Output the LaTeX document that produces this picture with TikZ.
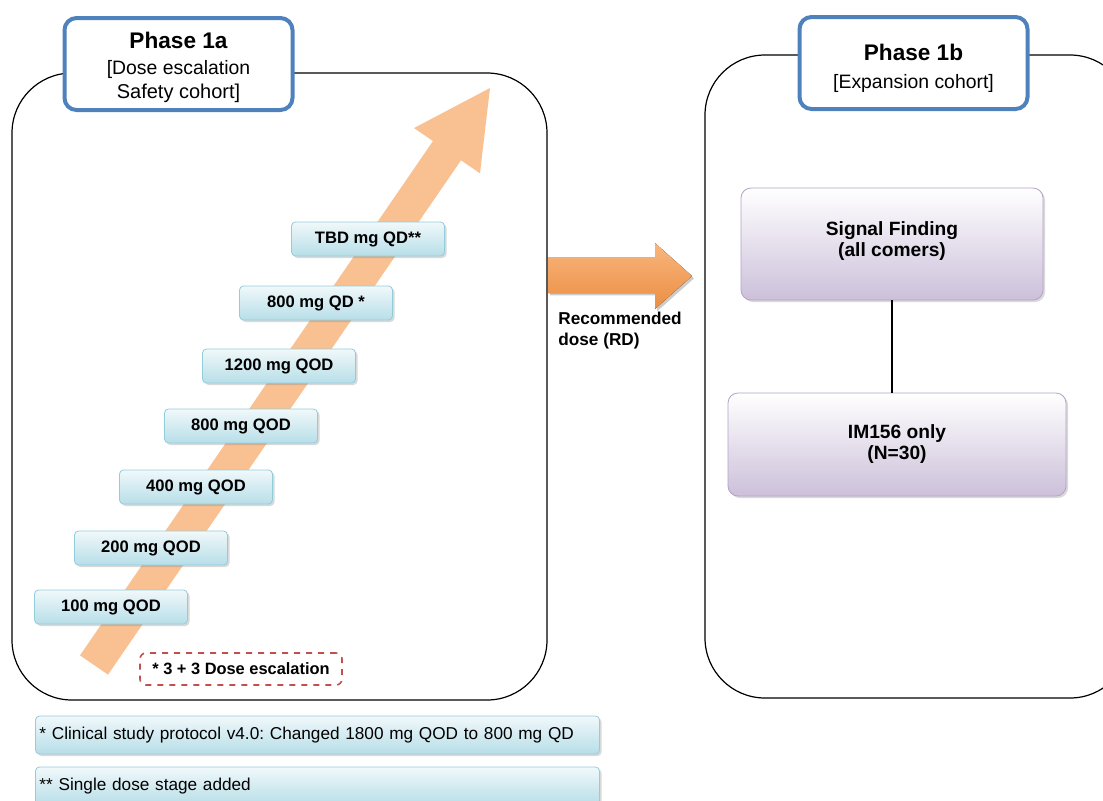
\documentclass[tikz,border=0pt]{standalone}
\usepackage{fontspec}
\setmainfont{Liberation Sans}
\usepackage{xcolor}
\usetikzlibrary{calc,shadows}
\definecolor{hdrblue}{HTML}{4F81BD}
\definecolor{dosefill}{HTML}{B7DEE8}
\definecolor{doseline}{HTML}{92CDDC}
\definecolor{lilac}{HTML}{CCC0DA}
\definecolor{lilacline}{HTML}{B3A2C7}
\definecolor{rdorange}{HTML}{F79646}
\definecolor{stairorange}{HTML}{F9C192}
\definecolor{dashred}{HTML}{C0504D}
\newcommand{\fsz}[1]{\fontsize{#1}{1.2\dimexpr#1pt\relax}\selectfont}
\frenchspacing

\tikzset{
  phasebox/.style={draw=hdrblue, line width=2pt, fill=white, rounded corners=6pt,
    minimum width=114pt, minimum height=46pt, align=center},
  dosebox/.style={draw=doseline, rounded corners=2pt, top color=dosefill!20, bottom color=dosefill,
    minimum width=76.5pt, minimum height=17pt, inner sep=1pt, font=\fsz{8.3}\bfseries,
    drop shadow={shadow xshift=1pt, shadow yshift=-1pt, opacity=0.3}},
  notebox/.style={dosebox, minimum width=282pt, minimum height=19pt, font=\fsz{8.6}, align=left,
    text width=278pt},
  armbox/.style={draw=lilacline, rounded corners=5pt, top color=white, bottom color=lilac,
    align=center, font=\fontsize{9.6}{10.5}\selectfont\bfseries,
    drop shadow={shadow xshift=1pt, shadow yshift=-1pt, opacity=0.3}},
  cohort/.style={draw, line width=0.6pt, rounded corners=30pt},
}

\begin{document}
\begin{tikzpicture}[x=0.5pt, y=-0.5pt]
    \useasboundingbox (0,0) rectangle (1103,800);
    \clip (0,0) rectangle (1103,800);

    % Cohort frames
    \draw[cohort] (12,73) rectangle (547,700);
    \draw[cohort] (705,55) rectangle (1130,698);

    % Escalation arrow
    \coordinate (abot) at (94,665);
    \coordinate (atip) at (490,88);
    \coordinate (aneck) at ($(atip)!38pt!(abot)$);
    \fill[stairorange] ($(abot)!8.5pt!90:(atip)$) -- ($(aneck)!8.5pt!-90:(abot)$)
        -- ($(aneck)!20pt!-90:(abot)$) -- (atip) -- ($(aneck)!20pt!90:(abot)$)
        -- ($(aneck)!8.5pt!90:(abot)$) -- ($(abot)!8.5pt!-90:(atip)$) -- cycle;

    % Phase headers
    \node[phasebox] (p1a) at (178.5,64) {\fsz{11.3}\bfseries\rule{0pt}{11.5pt}Phase 1a\\[1pt]
        \fsz{9.7}{[}Dose escalation\\Safety cohort{]}};
    \node[phasebox] (p1b) at (913.5,63) {\fsz{11.3}\bfseries\rule{0pt}{14pt}Phase 1b\\[2pt]
        \fsz{9.7}{[}Expansion cohort{]}};

    % Dose levels
    \node[dosebox] (d100) at (111,607) {100 mg QOD};
    \node[dosebox] (d200) at (151,548) {200 mg QOD};
    \node[dosebox] (d400) at (196,487) {400 mg QOD};
    \node[dosebox] (d800) at (241,426) {800 mg QOD};
    \node[dosebox] (d1200) at (279,366) {1200 mg QOD};
    \node[dosebox] (d800qd) at (316,303) {800 mg QD *};
    \node[dosebox] (dtbd) at (368,239) {TBD mg QD**};

    \node[draw=dashred, dashed, line width=0.8pt, rounded corners=3pt, minimum width=101pt,
        minimum height=16pt, inner sep=1pt, font=\fsz{8.2}\bfseries] (rule33) at (241,669)
        {* 3 + 3 Dose escalation};

    % Footnotes
    \node[notebox] (note1) at (317.5,735) {* Clinical study protocol v4.0: Changed 1800 mg QOD to 800 mg QD};
    \node[notebox] (note2) at (317.5,786) {** Single dose stage added};

    % Recommended dose
    \fill[top color=rdorange!70!white, bottom color=rdorange!95!black,
        drop shadow={shadow xshift=1pt, shadow yshift=-1.2pt, opacity=0.4}]
        (548,257) -- (655,257) -- (655,243) -- (692,276) -- (655,309) -- (655,293) -- (548,293) -- cycle;
    \node[anchor=north west, align=left, inner sep=0pt, font=\fsz{8.6}\bfseries] (rd) at (558,312)
        {Recommended\\dose (RD)};

    % Expansion arms
    \node[armbox, minimum width=151pt, minimum height=56pt] (sf) at (892,244)
        {Signal Finding\\(all comers)\\[-6pt]{}};
    \node[armbox, minimum width=169pt, minimum height=51.5pt] (im) at (897,444.5)
        {IM156 only\\(N=30)};
    \draw[line width=0.6pt] (sf.south) -- (sf.south |- im.north);
\end{tikzpicture}
\end{document}
